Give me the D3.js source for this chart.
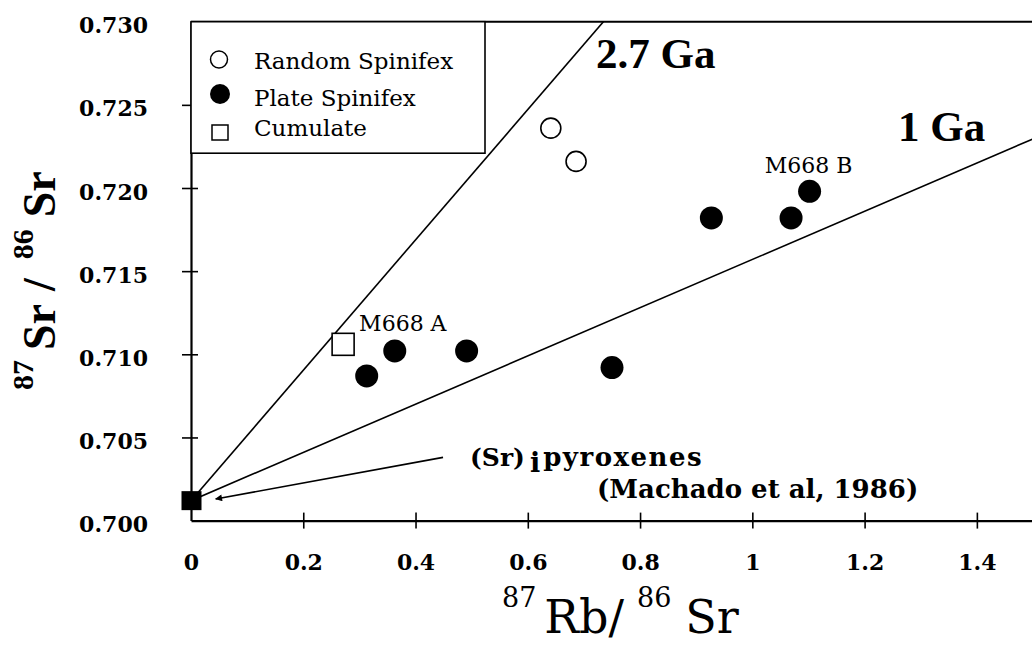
<!DOCTYPE html>
<html>
<head>
<meta charset="utf-8">
<script src="https://cdn.jsdelivr.net/npm/d3@7"></script>
<style>
  html, body { margin: 0; padding: 0; background: #fff; }
  svg { display: block; }
</style>
</head>
<body>
<svg id="chart" width="1032" height="645"></svg>
<script>
// ---------------- data ----------------
const randomSpinifex = [
  { x: 0.641, y: 0.7236 },
  { x: 0.686, y: 0.7216 }
];
const plateSpinifex = [
  { x: 0.313, y: 0.7087 },
  { x: 0.363, y: 0.7102 },
  { x: 0.491, y: 0.7102 },
  { x: 0.750, y: 0.7092 },
  { x: 0.927, y: 0.7182 },
  { x: 1.069, y: 0.7182 },
  { x: 1.102, y: 0.7198, label: "M668 B" }
];
const cumulate = [
  { x: 0.271, y: 0.7106, label: "M668 A" }
];
const initialRatio = { x: 0.0, y: 0.7012 };           // (Sr)i pyroxenes
const isochrons = [
  { label: "2.7 Ga", slope: 0.0392 },
  { label: "1 Ga",   slope: 0.0145 }
];
const xTickValues = [0, 0.2, 0.4, 0.6, 0.8, 1.0, 1.2, 1.4];
const xTickLabels = ["0", "0.2", "0.4", "0.6", "0.8", "1", "1.2", "1.4"];
const yTickValues = [0.700, 0.705, 0.710, 0.715, 0.720, 0.725, 0.730];
const yTickLabels = ["0.700", "0.705", "0.710", "0.715", "0.720", "0.725", "0.730"];
const legendItems = ["Random Spinifex", "Plate Spinifex", "Cumulate"];

// ---------------- layout ----------------
const svg = d3.select("#chart");
const pLeft = 191, pTop = 21.7, pRight = 1033, pBottom = 520.6;
const x = d3.scaleLinear().domain([0, 1.5]).range([pLeft, pRight]);
const y = d3.scaleLinear().domain([0.700, 0.730]).range([pBottom, pTop]);

const SERIF = "'DejaVu Serif', serif";
const TIMES = "'Liberation Serif', 'Times New Roman', serif";

const defs = svg.append("defs");
defs.append("clipPath").attr("id", "plotclip")
  .append("rect").attr("x", pLeft).attr("y", pTop).attr("width", pRight - pLeft).attr("height", pBottom - pTop);

// isochron lines
const iso = svg.append("g").attr("clip-path", "url(#plotclip)");
isochrons.forEach(d => {
  const xEnd = 1.5;
  iso.append("line")
    .attr("x1", x(initialRatio.x)).attr("y1", y(initialRatio.y))
    .attr("x2", x(xEnd)).attr("y2", y(initialRatio.y + d.slope * xEnd))
    .attr("stroke", "#000").attr("stroke-width", 1.6);
});

// axes
const xAxis = d3.axisBottom(x).tickValues(xTickValues).tickSize(0).tickFormat((d, i) => xTickLabels[i]);
const gx = svg.append("g").attr("transform", `translate(0,${pBottom})`).call(xAxis);
gx.select(".domain").attr("stroke-width", 2.2);
gx.selectAll(".tick line").attr("y1", d => d === 0 ? 0 : -8).attr("y2", d => d === 0 ? 0 : 8).attr("stroke-width", 1.6);
gx.selectAll(".tick text")
  .attr("y", 49).attr("dy", 0)
  .attr("font-family", SERIF).attr("font-weight", "bold").attr("font-size", 22).attr("fill", "#000");

const yAxis = d3.axisLeft(y).tickValues(yTickValues).tickSize(0).tickFormat((d, i) => yTickLabels[i]);
const gy = svg.append("g").attr("transform", `translate(${pLeft},0)`).call(yAxis);
gy.select(".domain").attr("stroke-width", 2.2);
gy.selectAll(".tick line")
  .attr("x1", d => (d === 0.700 || d === 0.730) ? 0 : -9)
  .attr("x2", d => (d === 0.700 || d === 0.730) ? 0 : 7)
  .attr("stroke-width", 1.6);
gy.selectAll(".tick text")
  .attr("x", -43).attr("dy", 11)
  .attr("font-family", SERIF).attr("font-weight", "bold").attr("font-size", 22).attr("fill", "#000");
svg.selectAll(".domain").attr("stroke", "#000");
svg.selectAll(".tick line").attr("stroke", "#000");

// top frame line
svg.append("line").attr("x1", pLeft).attr("x2", pRight).attr("y1", pTop).attr("y2", pTop)
  .attr("stroke", "#000").attr("stroke-width", 2);

// isochron labels
svg.append("text").attr("x", 596).attr("y", 68)
  .attr("font-family", TIMES).attr("font-weight", "bold").attr("font-size", 43)
  .text(isochrons[0].label);
svg.append("text").attr("x", 898).attr("y", 141)
  .attr("font-family", TIMES).attr("font-weight", "bold").attr("font-size", 43)
  .text(isochrons[1].label);

// arrow to initial ratio
defs.append("marker").attr("id", "arrowhead")
  .attr("viewBox", "0 0 10 10").attr("refX", 9).attr("refY", 5)
  .attr("markerWidth", 9).attr("markerHeight", 7).attr("orient", "auto").attr("markerUnits", "userSpaceOnUse")
  .append("path").attr("d", "M0,0 L10,5 L0,10 Z").attr("fill", "#000");
svg.append("line")
  .attr("x1", x(0.449)).attr("y1", y(0.7038))
  .attr("x2", x(0.044)).attr("y2", y(0.7013))
  .attr("stroke", "#000").attr("stroke-width", 1.6)
  .attr("marker-end", "url(#arrowhead)");

// initial ratio marker
svg.append("rect")
  .attr("x", x(initialRatio.x) - 9.5).attr("y", y(initialRatio.y) - 9.5)
  .attr("width", 20).attr("height", 19).attr("fill", "#000");

// data points
svg.selectAll("circle.rs").data(randomSpinifex).join("circle").attr("class", "rs")
  .attr("cx", d => x(d.x)).attr("cy", d => y(d.y)).attr("r", 10)
  .attr("fill", "#fff").attr("stroke", "#000").attr("stroke-width", 1.6);
svg.selectAll("circle.ps").data(plateSpinifex).join("circle").attr("class", "ps")
  .attr("cx", d => x(d.x)).attr("cy", d => y(d.y)).attr("r", 11.5)
  .attr("fill", "#000");
svg.selectAll("rect.cu").data(cumulate).join("rect").attr("class", "cu")
  .attr("x", d => x(d.x) - 11).attr("y", d => y(d.y) - 11).attr("width", 22).attr("height", 22)
  .attr("fill", "#fff").attr("stroke", "#000").attr("stroke-width", 1.6);

// sample labels
svg.append("text").attr("x", x(cumulate[0].x) + 16).attr("y", y(cumulate[0].y) - 13)
  .attr("font-family", SERIF).attr("font-size", 22).text(cumulate[0].label);
const lb = plateSpinifex.find(d => d.label);
svg.append("text").attr("x", x(lb.x) - 1).attr("y", y(lb.y) - 18).attr("text-anchor", "middle")
  .attr("font-family", SERIF).attr("font-size", 22).text(lb.label);

// (Sr)i annotation
const ann = svg.append("text").attr("x", 470).attr("y", 466)
  .attr("font-family", SERIF).attr("font-weight", "bold").attr("font-size", 25);
ann.append("tspan").text("(Sr)");
ann.append("tspan").attr("dx", 5).attr("dy", 6).attr("font-size", 27).text("i");
ann.append("tspan").attr("dx", 3).attr("dy", -6).attr("font-size", 26).attr("letter-spacing", 1.5).text("pyroxenes");
svg.append("text").attr("x", 597).attr("y", 498)
  .attr("font-family", SERIF).attr("font-weight", "bold").attr("font-size", 26)
  .text("(Machado et al, 1986)");

// legend
const lg = svg.append("g");
lg.append("rect").attr("x", pLeft).attr("y", pTop).attr("width", 294).attr("height", 131.5)
  .attr("fill", "#fff").attr("stroke", "#000").attr("stroke-width", 1.6);
lg.append("circle").attr("cx", 219).attr("cy", 59.5).attr("r", 8.5)
  .attr("fill", "#fff").attr("stroke", "#000").attr("stroke-width", 1.5);
lg.append("circle").attr("cx", 220).attr("cy", 94).attr("r", 10).attr("fill", "#000");
lg.append("rect").attr("x", 212).attr("y", 125).attr("width", 16).attr("height", 15)
  .attr("fill", "#fff").attr("stroke", "#000").attr("stroke-width", 1.5);
const legendBaselines = [69, 106, 136];
legendItems.forEach((t, i) => {
  lg.append("text").attr("x", 254).attr("y", legendBaselines[i])
    .attr("font-family", SERIF).attr("font-size", 23).text(t);
});

// x-axis title
const xt = svg.append("text").attr("x", 502).attr("y", 633)
  .attr("font-family", SERIF).attr("font-size", 46);
xt.append("tspan").attr("font-size", 27).attr("dy", -26).text("87");
xt.append("tspan").attr("dx", 8).attr("dy", 26).text("Rb/");
xt.append("tspan").attr("font-size", 27).attr("dx", 13).attr("dy", -26).text("86");
xt.append("tspan").attr("dx", 14).attr("dy", 26).text("Sr");

// y-axis title
const yt = svg.append("text").attr("transform", "translate(55,390) rotate(-90)")
  .attr("font-family", TIMES).attr("font-weight", "bold").attr("font-size", 46);
yt.append("tspan").attr("font-size", 30).attr("dy", -22).text("87");
yt.append("tspan").attr("dx", 10).attr("dy", 22).text("Sr");
yt.append("tspan").attr("dx", 13).text("/");
yt.append("tspan").attr("font-size", 30).attr("dx", 19).attr("dy", -22).text("86");
yt.append("tspan").attr("dx", 12).attr("dy", 22).text("Sr");
</script>
</body>
</html>
